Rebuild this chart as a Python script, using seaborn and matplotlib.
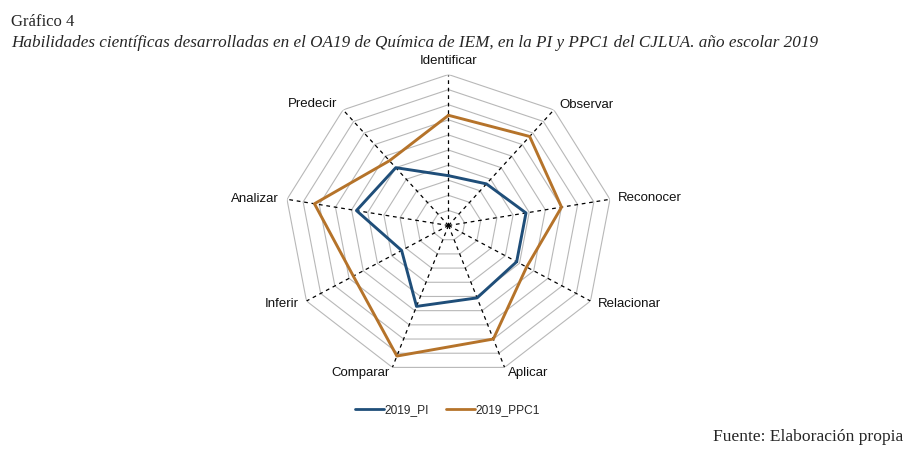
import numpy as np
import pandas as pd
import matplotlib.pyplot as plt
import seaborn as sns

# values (scale 0-100)
skills = ["Identificar", "Observar", "Reconocer", "Relacionar", "Aplicar",
          "Comparar", "Inferir", "Analizar", "Predecir"]
pi_2019 = [33, 36, 48, 48, 51, 57, 33, 57, 50]
ppc1_2019 = [73, 77, 70, 55, 80, 92, 67, 83, 56]
series_names = ["2019_PI", "2019_PPC1"]
colors = ["#1f4e79", "#b5732a"]
rings = list(range(10, 101, 10))

n = len(skills)
theta = np.linspace(0, 2 * np.pi, n + 1)  # last one closes the loop

rows = []
for name, vals in zip(series_names, [pi_2019, ppc1_2019]):
    for t, v in zip(theta, vals + vals[:1]):
        rows.append({"theta": t, "value": v, "serie": name})
df = pd.DataFrame(rows)

sns.set_theme(style="white")
plt.rcParams["font.family"] = ["Liberation Sans", "DejaVu Sans"]

fig = plt.figure(figsize=(9.21, 4.55), dpi=100)
fig.set_facecolor("white")
ax = fig.add_axes([0.3089, 0.1725, 0.3561, 0.6637], projection="polar")
ax.set_theta_zero_location("N")
ax.set_theta_direction(-1)
ax.set_aspect("auto")
ax.set_facecolor("none")
ax.grid(False)
ax.spines["polar"].set_visible(False)
ax.set_xticks([])
ax.set_yticks([])
ax.set_ylim(0, 100)

# grey polygon rings
for r in rings:
    ax.plot(theta, [r] * (n + 1), color="#b8b8b8", lw=0.8, zorder=1)
# dashed spokes
for t in theta[:-1]:
    ax.plot([t, t], [0, 100], color="black", lw=0.9, ls=(0, (3, 3)), zorder=2)

sns.lineplot(data=df, x="theta", y="value", hue="serie", palette=colors,
             sort=False, estimator=None, lw=2.1, ax=ax, legend=False, zorder=3)
ax.set_xlabel("")
ax.set_ylabel("")

# axis labels: (dx, dy) offsets in pixels from the outer vertex
offsets = [(0, 14, "center"), (5, 5, "left"), (8, 1, "left"), (7, -3, "left"),
           (3, -6, "left"), (-3, -6, "right"), (-8, -3, "right"),
           (-8, 0, "right"), (-6, 6, "right")]
for t, label, (dx, dy, ha) in zip(theta[:-1], skills, offsets):
    ax.annotate(label, xy=(t, 100), xytext=(dx * 0.72, dy * 0.72),
                textcoords="offset points", ha=ha, va="center",
                fontsize=9.5, color="#111111")

handles = [plt.Line2D([], [], color=c, lw=2) for c in colors]
fig.legend(handles, series_names, loc="center", bbox_to_anchor=(0.486, 0.099),
           ncol=2, frameon=False, fontsize=8.6, handlelength=2.4,
           handletextpad=0.1, columnspacing=1.4)

serif = ["Liberation Serif", "DejaVu Serif"]
fig.text(0.012, 0.952, "Gráfico 4", family=serif, fontsize=12, va="center")
fig.text(0.012, 0.905,
         "Habilidades científicas desarrolladas en el OA19 de Química de IEM, "
         "en la PI y PPC1 del CJLUA. año escolar 2019",
         family=serif, style="italic", fontsize=12.3, va="center")
fig.text(0.9805, 0.0396, "Fuente: Elaboración propia", family=serif,
         fontsize=12.6, ha="right", va="center")

fig.savefig("out.png", dpi=100, facecolor="white")
